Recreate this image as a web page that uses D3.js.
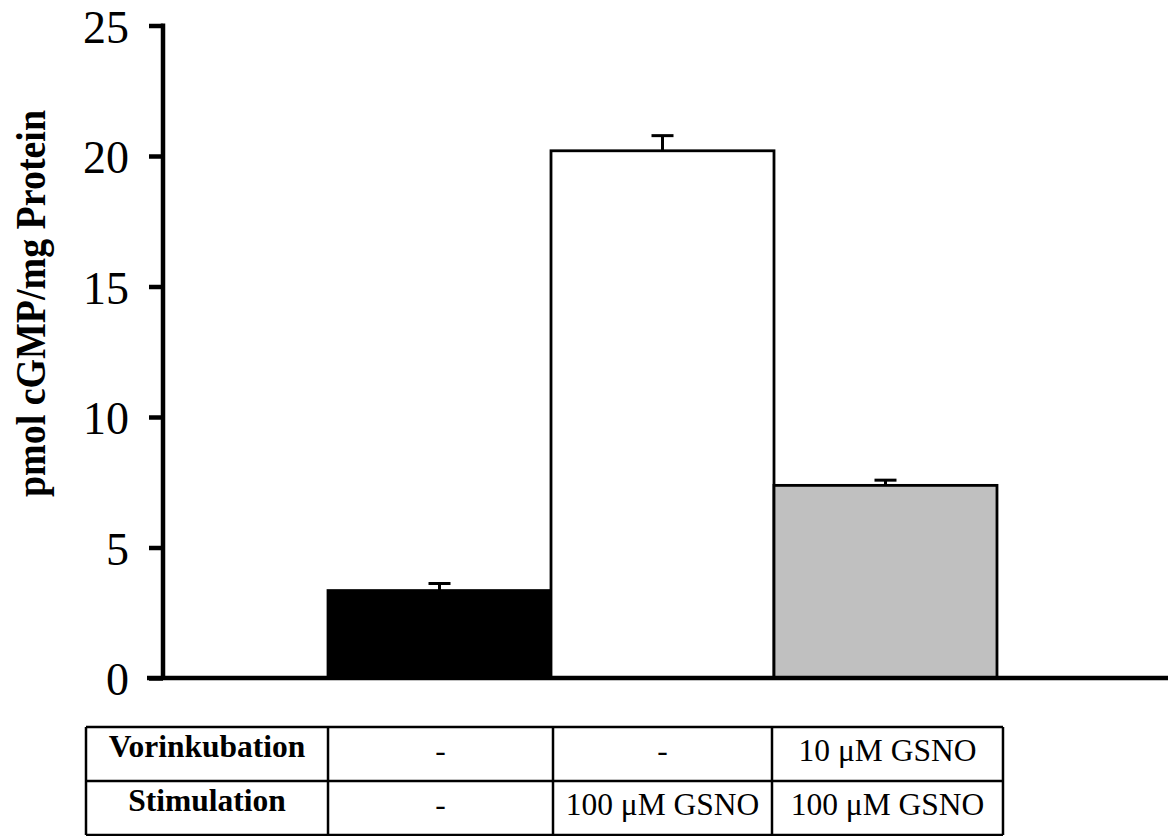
<!DOCTYPE html>
<html>
<head>
<meta charset="utf-8">
<script src="https://cdn.jsdelivr.net/npm/d3@7"></script>
<style>
  html, body { margin: 0; padding: 0; background: #fff; }
  svg { display: block; }
  text { font-family: "Liberation Serif", "Times New Roman", serif; fill: #000; }
</style>
</head>
<body>
<script>
// ---- data ----
const groups = ["Kontrolle", "GSNO", "GSNO + Vorinkubation"];
const values = [3.35, 20.2, 7.38];
const errors = [0.27, 0.58, 0.2];
const barColors = ["#000000", "#ffffff", "#c0c0c0"];
const yTicks = [0, 5, 10, 15, 20, 25];
const yLabel = "pmol cGMP/mg Protein";
const rowLabels = ["Vorinkubation", "Stimulation"];
const vorinkubation = ["-", "-", "10 \u03bcM GSNO"];
const stimulation = ["-", "100 \u03bcM GSNO", "100 \u03bcM GSNO"];

const W = 1170, H = 836;
const svg = d3.select("body").append("svg").attr("width", W).attr("height", H);

const axisX = 163, axisRight = 1168, y0 = 678, yTop = 25.5;

const y = d3.scaleLinear().domain([0, 25]).range([y0, yTop]);
const x = d3.scaleBand().domain(groups).range([axisX, axisRight - 6])
  .paddingInner(0).paddingOuter(0.74);

// bars
svg.selectAll("rect.bar").data(groups).enter().append("rect")
  .attr("class", "bar")
  .attr("x", d => x(d))
  .attr("width", x.bandwidth())
  .attr("y", (d, i) => y(values[i]))
  .attr("height", (d, i) => y(0) - y(values[i]))
  .attr("fill", (d, i) => barColors[i])
  .attr("stroke", "#000").attr("stroke-width", 2.8);

// error bars (upper only)
const eb = svg.selectAll("g.err").data(groups).enter().append("g").attr("class", "err");
eb.append("line")
  .attr("x1", d => x(d) + x.bandwidth() / 2).attr("x2", d => x(d) + x.bandwidth() / 2)
  .attr("y1", (d, i) => y(values[i])).attr("y2", (d, i) => y(values[i] + errors[i]))
  .attr("stroke", "#000").attr("stroke-width", 3);
eb.append("line")
  .attr("x1", d => x(d) + x.bandwidth() / 2 - 11).attr("x2", d => x(d) + x.bandwidth() / 2 + 11)
  .attr("y1", (d, i) => y(values[i] + errors[i])).attr("y2", (d, i) => y(values[i] + errors[i]))
  .attr("stroke", "#000").attr("stroke-width", 3);

// y axis
const yAxis = d3.axisLeft(y).tickValues(yTicks).tickSize(14).tickPadding(20).tickFormat(d3.format("d"));
const gy = svg.append("g").attr("transform", `translate(${axisX},0)`).call(yAxis);
gy.select(".domain").remove();
gy.selectAll(".tick line").attr("stroke", "#000").attr("stroke-width", 4.5);
gy.selectAll(".tick text").attr("font-size", 46).attr("dy", "0.36em")
  .style("font-family", '"Liberation Serif", serif');
svg.append("line").attr("x1", axisX).attr("x2", axisX).attr("y1", yTop - 2).attr("y2", y0 + 2)
  .attr("stroke", "#000").attr("stroke-width", 4.5);
// x axis line
svg.append("line").attr("x1", axisX - 16).attr("x2", axisRight).attr("y1", y0).attr("y2", y0)
  .attr("stroke", "#000").attr("stroke-width", 4.5);

// y label
svg.append("text")
  .attr("transform", `translate(45,${(110 + 497) / 2}) rotate(-90)`)
  .attr("text-anchor", "middle")
  .attr("font-size", 42).attr("font-weight", "bold")
  .attr("textLength", 387).attr("lengthAdjust", "spacingAndGlyphs")
  .text(yLabel);

// table
const tTop = 727, rowH = 54, tLeft = 86;
const colEdges = [tLeft, x(groups[0]), x(groups[1]) + 2, x(groups[2]) - 2, x(groups[2]) + x.bandwidth() + 6];
const tRight = colEdges[colEdges.length - 1];
const tbl = svg.append("g");
[0, 1, 2].forEach(r => {
  tbl.append("line").attr("x1", tLeft).attr("x2", tRight)
    .attr("y1", tTop + r * rowH).attr("y2", tTop + r * rowH)
    .attr("stroke", "#000").attr("stroke-width", 2.5);
});
colEdges.forEach(cx => {
  tbl.append("line").attr("x1", cx).attr("x2", cx)
    .attr("y1", tTop).attr("y2", tTop + 2 * rowH)
    .attr("stroke", "#000").attr("stroke-width", 2.5);
});
const rows = [vorinkubation, stimulation];
rows.forEach((vals, r) => {
  tbl.append("text")
    .attr("x", (colEdges[0] + colEdges[1]) / 2)
    .attr("y", tTop + r * rowH + 30)
    .attr("text-anchor", "middle").attr("font-size", 31.5).attr("font-weight", "bold")
    .text(rowLabels[r]);
  vals.forEach((v, c) => {
    tbl.append("text")
      .attr("x", (colEdges[c + 1] + colEdges[c + 2]) / 2)
      .attr("y", tTop + r * rowH + 34)
      .attr("text-anchor", "middle").attr("font-size", 31.5)
      .text(v);
  });
});
</script>
</body>
</html>
